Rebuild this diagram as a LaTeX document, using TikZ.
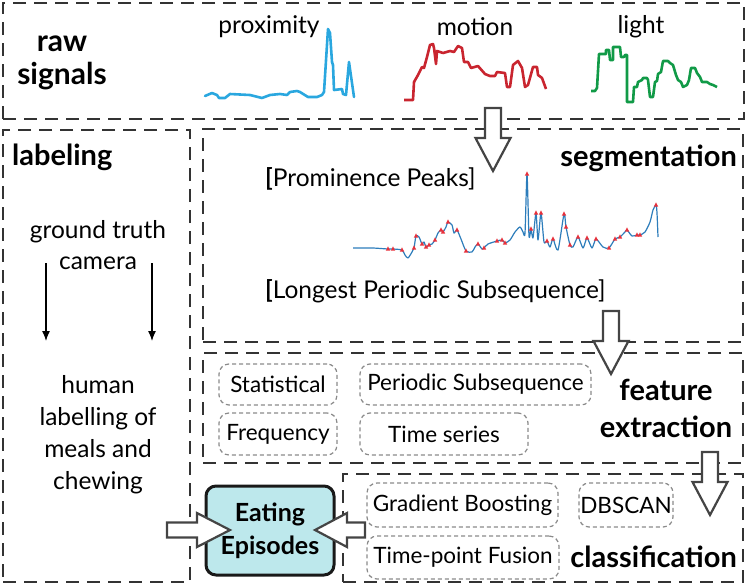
\documentclass[tikz,border=0pt]{standalone}
\usepackage{fontspec}
\setmainfont{Lato}
\usetikzlibrary{arrows.meta,fit}
\definecolor{frame}{HTML}{333333}
\definecolor{subgray}{HTML}{8A8A8A}
\definecolor{arrowgray}{HTML}{444444}
\definecolor{proxblue}{HTML}{2AA7DF}
\definecolor{motred}{HTML}{C9252F}
\definecolor{lightgreen}{HTML}{119A47}
\definecolor{segblue}{HTML}{2D7DBB}
\definecolor{peakred}{HTML}{E8303A}
\definecolor{eatfill}{HTML}{BDE8EC}
\begin{document}
\begin{tikzpicture}[x=1pt,y=-1pt,
  region/.style={draw=frame, line width=2.5pt, dash pattern=on 13pt off 8pt, inner sep=0pt},
  subbox/.style={draw=subgray, line width=1.2pt, dash pattern=on 4pt off 3pt, rounded corners=10pt, inner sep=0pt, font=\fontsize{22.5}{26}\selectfont},
  boldlabel/.style={font=\fontsize{29}{33}\selectfont\bfseries, inner sep=0pt, align=center},
  txt/.style={font=\fontsize{24.5}{32}\selectfont, inner sep=0pt, align=center},
  hollow/.style={draw=arrowgray, line width=2.2pt, fill=white, line join=miter},
  thinarrow/.style={draw=black, line width=1.3pt, -{Latex[length=10pt,width=8pt]}},
  downhollow/.pic={\draw[hollow] (-8,0) -- (-8,30) -- (-17.5,30) -- (0,63) -- (17.5,30) -- (8,30) -- (8,0) -- cycle;},
]
\useasboundingbox (0,0) rectangle (747,587);

% regions
\node[region, fit={(3,3) (744,119)}] (raw) {};
\node[region, fit={(3,130) (190,582)}] (lab) {};
\node[region, fit={(203,129) (743,342)}] (seg) {};
\node[region, fit={(203,353) (743,463)}] (feat) {};
\node[region, fit={(343,474) (743,582)}] (cls) {};

% raw signals
\node[boldlabel, font=\fontsize{30}{33}\selectfont\bfseries] (rawlbl) at (62,63) {raw\\signals};
\node[txt] (proxlbl) at (269,27) {proximity};
\node[txt] (motlbl) at (475,27) {motion};
\node[txt] (lightlbl) at (641,27) {light};

\draw[proxblue, line width=2.6pt, line join=round, line cap=round] plot coordinates {
(205,96) (212,93) (217,95) (219,98) (225,98) (230,94) (250,95) (262,98) (270,95) (280,94) (287,95) (290,92) (297,91) (300,92) (308,97) (317,97) (322,95) (324,92) (328,29) (330,33) (332,62) (333,65) (334,90) (342,89) (343,94) (346,95) (349,62) (354,97)};

\draw[motred, line width=2.6pt, line join=round] plot coordinates {
(404,100) (413,100) (414,82) (418,75) (422,67) (424,68) (427,57) (430,45) (433,44) (434,48) (436,64) (437,51) (443,53) (450,51) (454,52) (458,46) (462,48) (464,62) (468,62) (471,68) (478,66) (485,74) (490,76) (495,76) (497,72) (505,73) (507,87) (510,87) (513,65) (518,61) (522,68) (525,87) (528,85) (533,67) (537,67) (538,75) (542,78) (546,89)};

\draw[lightgreen, line width=2.6pt, line join=round] plot coordinates {
(591,91) (595,91) (597,88) (599,54) (606,54) (606,50) (609,50) (610,60) (613,60) (613,47) (620,47) (621,57) (624,57) (625,55) (627,55) (627,102) (633,102) (634,87) (637,87) (638,82) (642,80) (643,78) (647,78) (648,80) (650,97) (653,97) (655,82) (657,81) (658,74) (661,72) (663,61) (668,61) (670,63) (673,65) (676,75) (678,80) (681,82) (683,87) (687,85) (689,80) (691,68) (695,68) (697,73) (700,77) (702,82) (707,82) (710,84) (713,85) (717,87)};

% labeling
\node[boldlabel, anchor=west] (lablbl) at (12,157) {labeling};
\node[txt, font=\fontsize{24.5}{31}\selectfont] (gt) at (98,245) {ground truth\\camera};
\node[txt] (human) at (98,435) {human\\labelling of\\meals and\\chewing};
\coordinate (la1) at (46,263);
\coordinate (lb1) at (46,341);
\coordinate (la2) at (152,263);
\coordinate (lb2) at (152,341);
\draw[thinarrow] (la1) -- (lb1);
\draw[thinarrow] (la2) -- (lb2);

% segmentation
\node[boldlabel, anchor=east] (seglbl) at (737,158) {segmentation};
\node[txt, anchor=west] (pp) at (265,179) {{\bfseries[}Prominence Peaks]};
\node[txt, anchor=west] (lps) at (265,291) {{\bfseries[}Longest Periodic Subsequence]};

\draw[segblue, line width=1.2pt, line join=round] plot[smooth, tension=0.4] coordinates {
(353,248) (360,248) (373,248) (388,249) (393,249) (402,250) (405,255) (408,258) (412,252) (414,248) (416,236) (419,237) (422,244) (424,242) (426,247) (429,245) (432,244) (435,240) (438,233) (441,230) (443,232) (446,227) (448,222) (452,225) (454,233) (457,230) (461,239) (466,251) (472,252) (475,247) (478,244) (482,249) (484,248) (488,244) (497,241) (502,240) (505,243) (510,240) (515,232) (520,227) (523,232) (525,233) (527,174) (529,236) (531,229) (533,238) (536,213) (538,240) (541,213) (544,242) (547,241) (550,247) (553,239) (558,250) (564,214) (566,227) (570,245) (573,247) (578,237) (583,248) (587,238) (592,248) (596,239) (603,247) (609,248) (615,239) (620,237) (625,232) (627,230) (632,236) (637,235) (640,235) (645,232) (650,222) (653,210) (656,205) (657,213) (658,237)};

\foreach \px/\py in {388/249,393/249,402/250,414/248,416/236,422/244,426/247,429/245,435/240,441/230,443/232,448/222,457/230,466/251,478/244,484/248,497/241,502/240,505/243,527/174,531/229,536/213,541/213,547/241,553/239,564/214,566/227,570/245,578/237,587/238,596/239,609/248,615/239,620/237,627/230,637/235,640/235,656/205}
  \fill[peakred] (\px,\py) ++(-2.2,1.6) -- ++(4.4,0) -- ++(-2.2,-4.2) -- cycle;

% feature extraction
\node[subbox, minimum width=118pt, minimum height=41pt] (stat) at (278,384.5) {Statistical};
\node[subbox, minimum width=231pt, minimum height=41pt] (pers) at (475.5,384.5) {Periodic Subsequence};
\node[subbox, minimum width=118pt, minimum height=42pt] (freq) at (278,434) {Frequency};
\node[subbox, minimum width=168pt, minimum height=42pt] (tser) at (444,434) {Time series};
\node[boldlabel, font=\fontsize{29}{37}\selectfont\bfseries] (featlbl) at (666,408) {feature\\extraction};

% classification
\node[subbox, minimum width=191pt, minimum height=44pt] (gb) at (462.5,505) {Gradient Boosting};
\node[subbox, minimum width=94pt, minimum height=44pt] (dbs) at (626,505) {DBSCAN};
\node[subbox, minimum width=192pt, minimum height=43pt] (tpf) at (463,557.5) {Time-point Fusion};
\node[boldlabel, anchor=east] (clslbl) at (737,557) {classification};

% eating episodes
\node[draw=black!90, line width=3pt, fill=eatfill, rounded corners=10pt, minimum width=128pt, minimum height=89pt, inner sep=0pt, align=center, font=\fontsize{25}{33}\selectfont\bfseries] (eat) at (270,530.5) {Eating\\Episodes};

% big hollow arrows
\coordinate (a1) at (493,108);
\coordinate (a2) at (611,311);
\coordinate (a3) at (710,452);
\pic at (a1) {downhollow};
\pic at (a2) {downhollow};
\pic at (a3) {downhollow};

\draw[hollow] (167,522.5) -- (197,522.5) -- (197,513) -- (230,530) -- (197,547) -- (197,537.5) -- (167,537.5) -- cycle;
\draw[hollow] (365,522.5) -- (347,522.5) -- (347,513) -- (315,530) -- (347,547) -- (347,537.5) -- (365,537.5) -- cycle;
\end{tikzpicture}
\end{document}
